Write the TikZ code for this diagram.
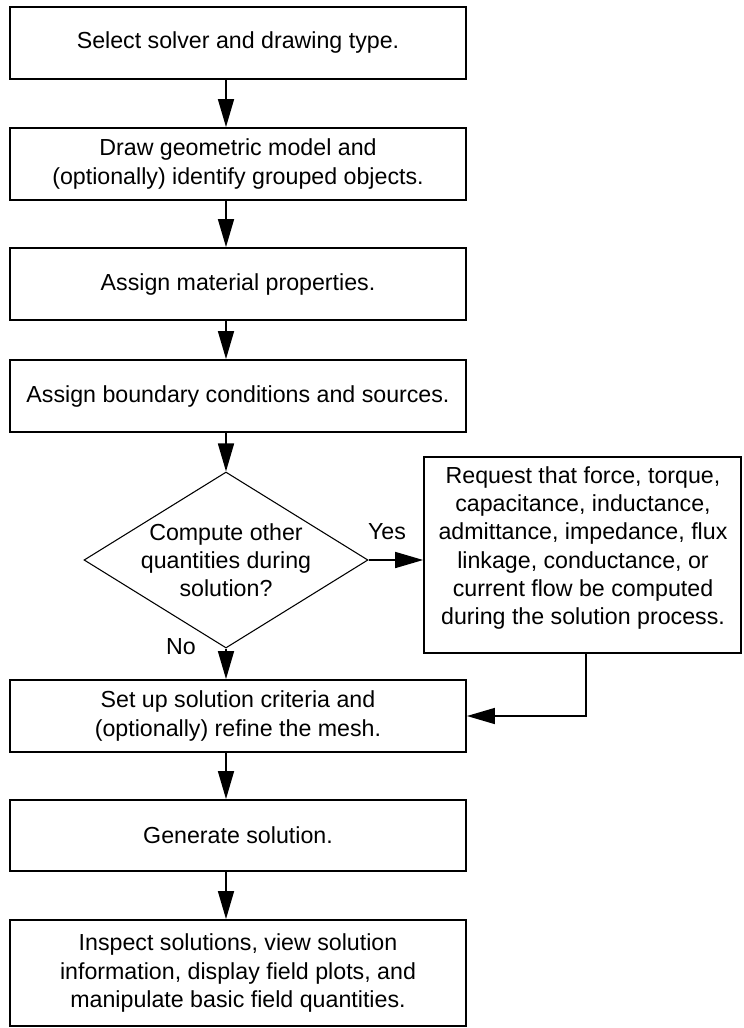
\documentclass[tikz,border=0pt]{standalone}
\usepackage{fontspec}
\setmainfont{Liberation Sans}
\usetikzlibrary{arrows.meta,shapes.geometric}
\begin{document}
\begin{tikzpicture}[x=0.75pt,y=-0.75pt,
  every node/.style={font=\fontsize{17.4}{21.2}\selectfont, align=center, inner sep=0pt},
  stepbox/.style={draw, line width=1.4pt, minimum width=342pt, minimum height=54pt},
  flow/.style={line width=1.2pt, -{Triangle[length=21pt,width=12pt]}},
  decision/.style={draw, diamond, line width=0.8pt, minimum width=213pt, minimum height=132pt}
]
\useasboundingbox (0,0) rectangle (743,1028);

\node[stepbox] (b1) at (238,43) {Select solver and drawing type.};
\node[stepbox] (b2) at (238,164) {Draw geometric model and\\(optionally) identify grouped objects.};
\node[stepbox] (b3) at (238,284) {Assign material properties.};
\node[stepbox] (b4) at (238,396) {Assign boundary conditions and sources.};
\node[decision] (d) at (226,560) {};
\node (dt) at (226,560) {Compute other\\quantities during\\solution?};
\node[stepbox, minimum width=238pt, minimum height=147pt] (r) at (582.75,555) {};
\node (rt) at (583,548) {Request that force, torque,\\capacitance, inductance,\\admittance, impedance, flux\\linkage, conductance, or\\current flow be computed\\during the solution process.};
\node[stepbox] (b7) at (238,716) {Set up solution criteria and\\(optionally) refine the mesh.};
\node[stepbox, minimum height=53.25pt] (b8) at (238,835.5) {Generate solution.};
\node[stepbox, minimum height=79.5pt] (b9) at (238,973) {Inspect solutions, view solution\\information, display field plots, and\\manipulate basic field quantities.};

\node (yes) at (387,532) {Yes};
\node (no) at (181,647) {No};

\coordinate (c1) at (226,80);
\draw[flow] (b1.south -| c1) -- (b2.north -| c1);
\draw[flow] (b2.south -| c1) -- (b3.north -| c1);
\draw[flow] (b3.south -| c1) -- (b4.north -| c1);
\draw[flow] (b4.south -| c1) -- (d.north);
\draw[flow] (d.east) -- (d.east -| r.west);
\draw[flow] (d.south) -- (b7.north -| c1);
\coordinate (rb) at (586,716);
\draw[flow] (r.south -| rb) -- (rb) -- (b7.east);
\draw[flow] (b7.south -| c1) -- (b8.north -| c1);
\draw[flow] (b8.south -| c1) -- (b9.north -| c1);
\end{tikzpicture}
\end{document}
